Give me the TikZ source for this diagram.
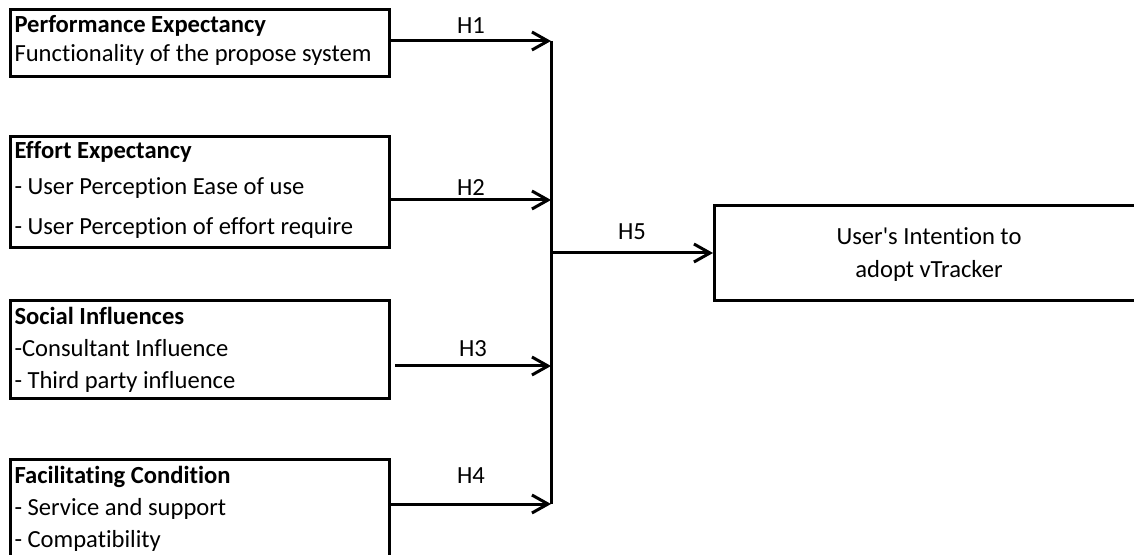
\documentclass[tikz,border=0pt]{standalone}
\usepackage{fontspec}
\setmainfont{Carlito}[Ligatures={TeX,NoCommon}]
\usetikzlibrary{arrows.meta}

\begin{document}
\begin{tikzpicture}[x=0.5pt,y=-0.5pt,line width=1.5pt,
  >={Straight Barb[length=8pt,width=9pt]},
  box/.style={draw,rectangle,anchor=north west,inner sep=0pt,minimum width=189.5pt},
  txt/.style={anchor=base west,inner sep=0pt,font=\fontsize{12.3}{15}\selectfont},
  lbl/.style={midway,anchor=base,inner sep=0pt,font=\fontsize{12.3}{15}\selectfont}]
\useasboundingbox (0,0) rectangle (1134,555);
\clip (0,0) rectangle (1134,555);
% the four constructs
\node[box,minimum height=33.5pt] (pe) at (9,8) {};
\node[box,minimum height=55.5pt] (ee) at (9,135) {};
\node[box,minimum height=49pt] (si) at (9,299) {};
\node[box,minimum height=60pt] (fc) at (9,458) {};
\node[txt] at (13,33) {\textbf{Performance Expectancy}};
\node[txt] at (13,62) {Functionality of the propose system};
\node[txt] at (13,159) {\textbf{Effort Expectancy}};
\node[txt] at (13,195) {- User Perception Ease of use};
\node[txt] at (13,235) {- User Perception of effort require};
\node[txt] at (13,325) {\textbf{Social Influences}};
\node[txt] at (13,357) {-Consultant Influence};
\node[txt] at (13,388) {- Third party influence};
\node[txt] at (13,483) {\textbf{Facilitating Condition}};
\node[txt] at (13,515) {- Service and support};
\node[txt] at (13,547) {- Compatibility};
% intention
\node[box,minimum width=216pt,minimum height=47.5pt] (ui) at (713,204) {};
\node[txt,anchor=base] at (929,245) {User\textquotesingle s Intention to};
\node[txt,anchor=base] at (929,278) {adopt vTracker};
% joins on the bar
\coordinate (j1) at (551,41);
\coordinate (j2) at (551,200);
\coordinate (j3) at (551,366);
\coordinate (j4) at (551,504);
\coordinate (j5) at (551,253);
\draw[->] (pe.east |- j1) -- node[lbl,yshift=3.5pt] {H1} (j1);
\draw[->] (ee.east |- j2) -- node[lbl,yshift=2pt] {H2} (j2);
\draw[->] ([xshift=2pt]si.east |- j3) -- node[lbl,yshift=4.5pt] {H3} (j3);
\draw[->] (fc.east |- j4) -- node[lbl,yshift=10.5pt] {H4} (j4);
\draw (j1) -- (j4);
\draw[->] (j5) -- node[lbl,yshift=6.5pt] {H5} (ui.west |- j5);
\end{tikzpicture}
\end{document}
